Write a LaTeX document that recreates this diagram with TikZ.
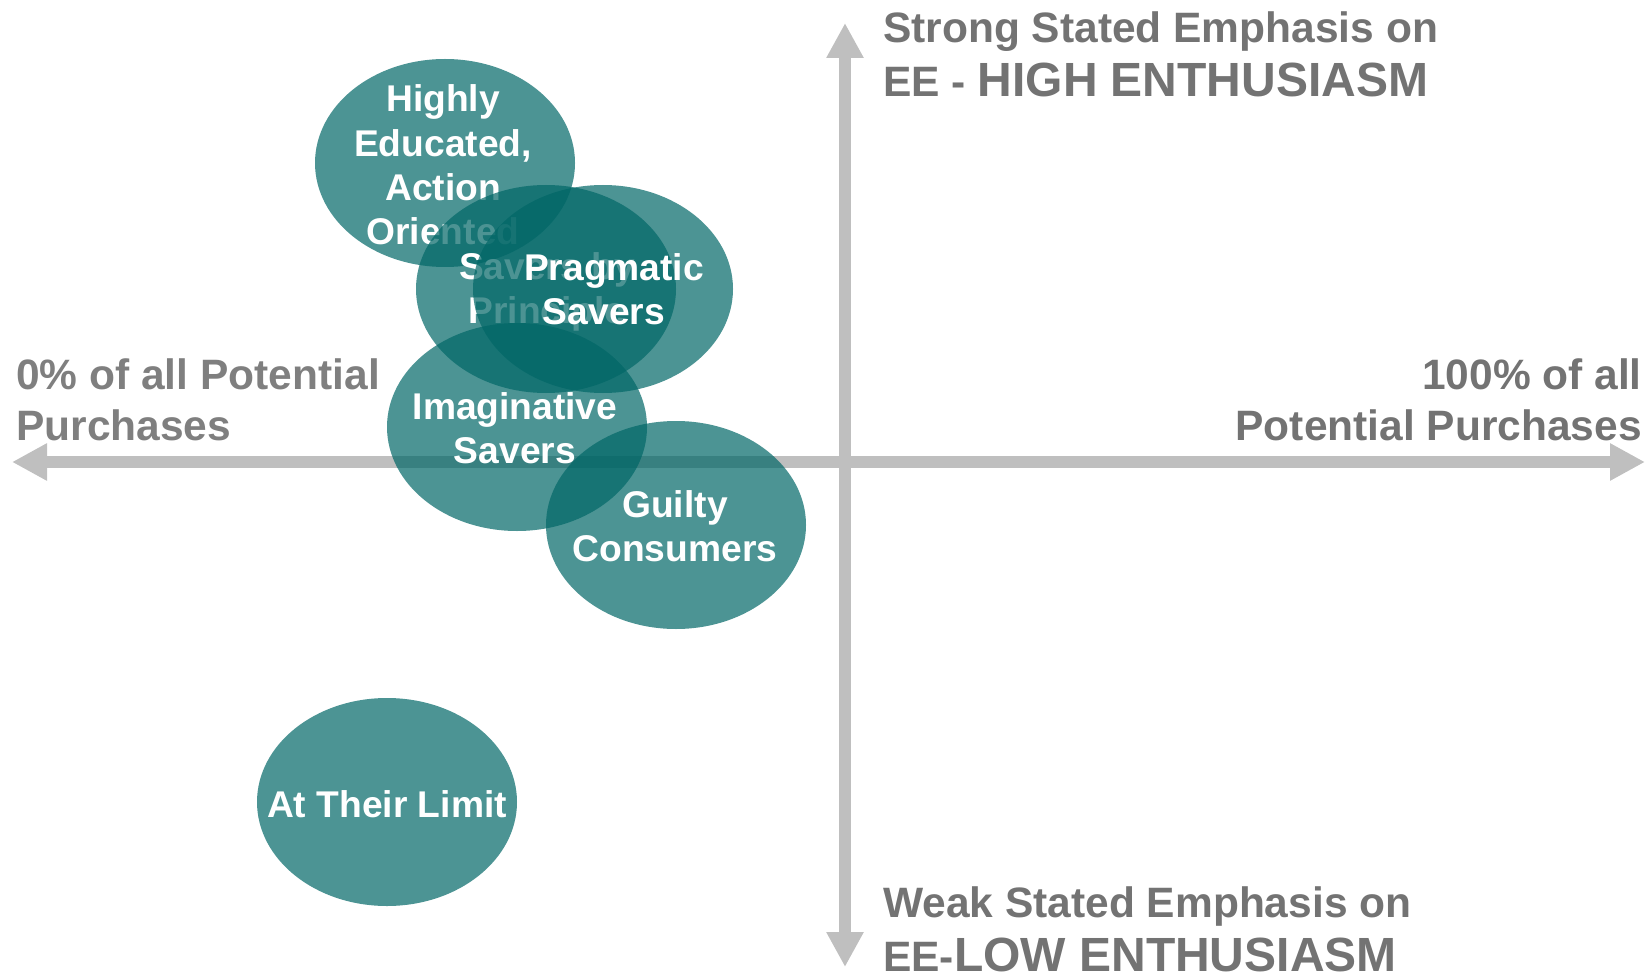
\documentclass[tikz,border=0pt]{standalone}
\usepackage{fontspec}
\setmainfont{Liberation Sans}
\usetikzlibrary{shapes.geometric,arrows.meta}
\definecolor{teal0}{RGB}{0,102,102}
\definecolor{axisgray}{RGB}{191,191,191}
\definecolor{labgray}{RGB}{115,115,115}
\definecolor{labgrayL}{RGB}{127,127,127}
\begin{document}
\begin{tikzpicture}[x=1pt,y=-1pt,
  seg/.style={ellipse, fill=teal0, fill opacity=0.7, draw=none, inner sep=0pt,
    minimum width=260pt, minimum height=208pt},
  segtext/.style={text=white, font=\bfseries\fontsize{37.2}{44.2}\selectfont,
    align=center, inner sep=0pt},
  lab/.style={text=labgray, font=\bfseries\fontsize{42.5}{51}\selectfont, inner sep=0pt},
  axisline/.style={draw=axisgray, fill=axisgray, line width=11.5pt}
]
\useasboundingbox (0,0) rectangle (1651,976);
% axes
\coordinate (L) at (12,462);
\coordinate (R) at (1645,462);
\coordinate (T) at (845,23);
\coordinate (B) at (845,967);
\draw[axisline, {Triangle[width=35pt,length=35pt]}-{Triangle[width=35pt,length=35pt]}] (L) -- (R);
\draw[axisline, {Triangle[width=35pt,length=35pt]}-{Triangle[width=35pt,length=35pt]}] (B) -- (T);
% axis labels
\node[lab, anchor=base west] (top1) at (883,43) {Strong Stated Emphasis on};
\node[lab, anchor=base west] (top2) at (883,97) {EE - {\fontsize{48}{56}\selectfont HIGH ENTHUSIASM}};
\node[lab, anchor=base west] (bot1) at (883,917) {Weak Stated Emphasis on};
\node[lab, anchor=base west] (bot2) at (883,971) {EE-{\fontsize{48}{56}\selectfont LOW ENTHUSIASM}};
\node[lab, text=labgrayL, anchor=base west] (left1) at (16,389) {0\% of all Potential};
\node[lab, text=labgrayL, anchor=base west] (left2) at (16,440) {Purchases};
\node[lab, anchor=base east] (right1) at (1642,389) {100\% of all};
\node[lab, anchor=base east] (right2) at (1642,440) {Potential Purchases};
% segments
\node[seg] (hiE) at (445,163) {};
\node[segtext] (hi) at (443,165) {Highly\\Educated,\\Action\\Oriented};
\node[seg] (sbpE) at (546,289) {};
\node[segtext] (sbp) at (547,292) {Savers by\\Principle};
\node[seg] (pragE) at (603,289) {};
\node[segtext] (prag) at (609,289) {\hspace*{10pt}Pragmatic\\Savers\hspace*{10pt}};
\node[seg] (imagE) at (517,427) {};
\node[segtext] (imag) at (515,428) {Imaginative\\Savers};
\node[seg] (guiltE) at (676,525) {};
\node[segtext] (guilt) at (675,526) {Guilty\\Consumers};
\node[seg] (limE) at (387,802) {};
\node[segtext] (lim) at (387,804) {At Their Limit};
\end{tikzpicture}
\end{document}
